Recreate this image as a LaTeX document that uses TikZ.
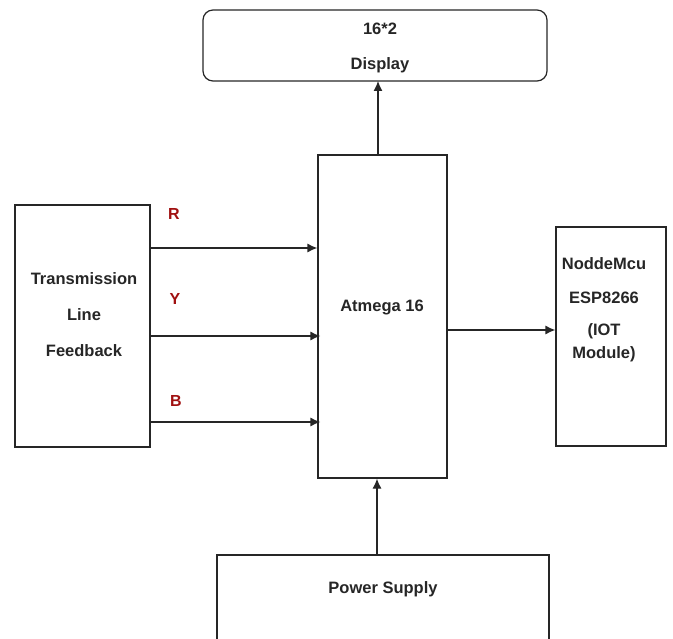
\documentclass[tikz,border=0pt]{standalone}
\usepackage{fontspec}
\setmainfont{Liberation Sans}
\usetikzlibrary{arrows.meta}
\definecolor{lbl}{HTML}{A01010}
\begin{document}
\begin{tikzpicture}[x=1pt,y=-1pt,
  box/.style={draw=black!85,line width=1.2pt,inner sep=0pt},
  txt/.style={font=\bfseries\fontsize{16.5}{19}\selectfont,text=black!85},
  sig/.style={font=\bfseries\fontsize{16}{19}\selectfont,text=lbl},
  conn/.style={draw=black!85,line width=1.2pt,-{Latex[length=10pt,width=9pt]}}]
\useasboundingbox (0,0) rectangle (673,639);
\begin{scope}
\clip (0,0) rectangle (673,639);
% boxes
\draw[box,rounded corners=10pt] (203,10) rectangle (547,81);
\coordinate (dispS) at (378,81);
\node[box,minimum width=129pt,minimum height=323pt] (mcu) at (382.5,316.5) {};
\node[box,minimum width=135pt,minimum height=242pt] (tlf) at (82.5,326) {};
\node[box,minimum width=110pt,minimum height=219pt] (iot) at (611,336.5) {};
\draw[box] (217,660) -- (217,555) -- (549,555) -- (549,660);
\coordinate (psN) at (377,555);
% texts
\node[txt] (t1) at (380,29) {16*2};
\node[txt] (t2) at (380,65) {Display};
\node[txt] (t3) at (382,307) {Atmega 16};
\node[txt] (t4) at (84,279) {Transmission};
\node[txt] (t5) at (84,315) {Line};
\node[txt] (t6) at (84,351) {Feedback};
\node[txt] (t7) at (604,264) {NoddeMcu};
\node[txt] (t8) at (604,298) {ESP8266};
\node[txt] (t9) at (604,331) {(IOT};
\node[txt] (t10) at (604,354) {Module)};
\node[txt] (t11) at (383,589) {Power Supply};
\node[sig] (r) at (174,214) {R};
\node[sig] (y) at (175,299) {Y};
\node[sig] (b) at (176,401) {B};
% connectors
\draw[conn] (mcu.north -| dispS) -- (dispS);
\draw[conn] (tlf.east |- 0,248) -- (mcu.west |- 0,248);
\draw[conn] (tlf.east |- 0,336) -- ([xshift=3pt]mcu.west |- 0,336);
\draw[conn] (tlf.east |- 0,422) -- ([xshift=3pt]mcu.west |- 0,422);
\draw[conn] (mcu.east |- 0,330) -- (iot.west |- 0,330);
\draw[conn] (psN) -- (mcu.south -| psN);
\end{scope}
\end{tikzpicture}
\end{document}
